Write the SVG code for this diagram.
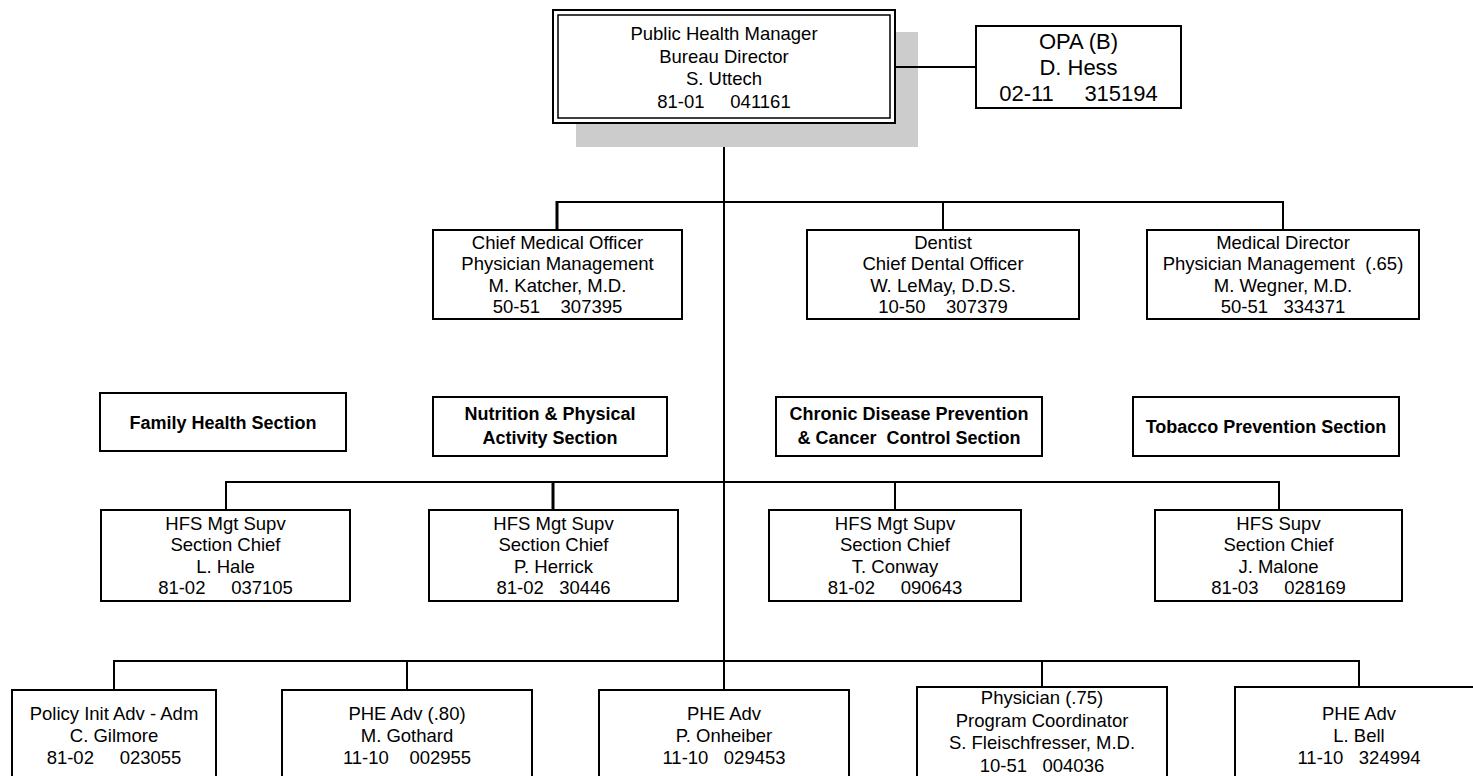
<svg xmlns="http://www.w3.org/2000/svg" width="1473" height="776" viewBox="0 0 1473 776">
<style>
.b{fill:#fff;stroke:#000;stroke-width:2}
.t{font-family:"Liberation Sans",Arial,sans-serif;font-size:18.5px;fill:#000;text-anchor:middle}
.o{font-size:22px}
.s{font-weight:bold;font-size:18px}
.c{fill:none;stroke:#000;stroke-width:2}
.k{stroke-width:3}
</style>
<rect width="1473" height="776" fill="#fff"/>
<g id="director">
<rect x="576" y="32" width="342" height="115" fill="#cccccc"/>
<rect class="b" x="553" y="10" width="342" height="113"/>
<rect x="558" y="15" width="332" height="103" fill="none" stroke="#000" stroke-width="1.5"/>
<text class="t" x="724" y="39.5">Public Health Manager</text>
<text class="t" x="724" y="62.5">Bureau Director</text>
<text class="t" x="724" y="84.5">S. Uttech</text>
<text class="t" x="724" y="107.5" xml:space="preserve">81-01     041161</text>
</g>
<g id="opa">
<rect class="b" x="976" y="26" width="205" height="82"/>
<text class="t o" x="1078.5" y="48.5">OPA (B)</text>
<text class="t o" x="1078.5" y="74.5">D. Hess</text>
<text class="t o" x="1078.5" y="100.5" xml:space="preserve">02-11     315194</text>
</g>
<g id="katcher">
<rect class="b" x="433" y="230" width="249" height="89"/>
<text class="t" x="557.5" y="249">Chief Medical Officer</text>
<text class="t" x="557.5" y="270">Physician Management</text>
<text class="t" x="557.5" y="292">M. Katcher, M.D.</text>
<text class="t" x="557.5" y="313" xml:space="preserve">50-51    307395</text>
</g>
<g id="lemay">
<rect class="b" x="807" y="230" width="272" height="89"/>
<text class="t" x="943" y="249">Dentist</text>
<text class="t" x="943" y="270">Chief Dental Officer</text>
<text class="t" x="943" y="292">W. LeMay, D.D.S.</text>
<text class="t" x="943" y="313" xml:space="preserve">10-50    307379</text>
</g>
<g id="wegner">
<rect class="b" x="1147" y="230" width="272" height="89"/>
<text class="t" x="1283" y="249">Medical Director</text>
<text class="t" x="1283" y="270" xml:space="preserve">Physician Management  (.65)</text>
<text class="t" x="1283" y="292">M. Wegner, M.D.</text>
<text class="t" x="1283" y="313" xml:space="preserve">50-51   334371</text>
</g>
<g id="family-health">
<rect class="b" x="100" y="393" width="246" height="58"/>
<text class="t s" x="223" y="428.5">Family Health Section</text>
</g>
<g id="nutrition">
<rect class="b" x="433" y="397" width="234" height="59"/>
<text class="t s" x="550" y="420">Nutrition &amp; Physical</text>
<text class="t s" x="550" y="444">Activity Section</text>
</g>
<g id="chronic">
<rect class="b" x="776" y="397" width="266" height="59"/>
<text class="t s" x="909" y="420">Chronic Disease Prevention</text>
<text class="t s" x="909" y="444" xml:space="preserve">&amp; Cancer  Control Section</text>
</g>
<g id="tobacco">
<rect class="b" x="1133" y="397" width="266" height="59"/>
<text class="t s" x="1266" y="433">Tobacco Prevention Section</text>
</g>
<g id="hale">
<rect class="b" x="101" y="510" width="249" height="91"/>
<text class="t" x="225.5" y="530">HFS Mgt Supv</text>
<text class="t" x="225.5" y="551">Section Chief</text>
<text class="t" x="225.5" y="573">L. Hale</text>
<text class="t" x="225.5" y="594" xml:space="preserve">81-02     037105</text>
</g>
<g id="herrick">
<rect class="b" x="429" y="510" width="249" height="91"/>
<text class="t" x="553.5" y="530">HFS Mgt Supv</text>
<text class="t" x="553.5" y="551">Section Chief</text>
<text class="t" x="553.5" y="573">P. Herrick</text>
<text class="t" x="553.5" y="594" xml:space="preserve">81-02   30446</text>
</g>
<g id="conway">
<rect class="b" x="769" y="510" width="252" height="91"/>
<text class="t" x="895" y="530">HFS Mgt Supv</text>
<text class="t" x="895" y="551">Section Chief</text>
<text class="t" x="895" y="573">T. Conway</text>
<text class="t" x="895" y="594" xml:space="preserve">81-02     090643</text>
</g>
<g id="malone">
<rect class="b" x="1155" y="510" width="247" height="91"/>
<text class="t" x="1278.5" y="530">HFS Supv</text>
<text class="t" x="1278.5" y="551">Section Chief</text>
<text class="t" x="1278.5" y="573">J. Malone</text>
<text class="t" x="1278.5" y="594" xml:space="preserve">81-03     028169</text>
</g>
<g id="gilmore">
<rect class="b" x="12" y="690" width="204" height="100"/>
<text class="t" x="114" y="719.5">Policy Init Adv - Adm</text>
<text class="t" x="114" y="741.5">C. Gilmore</text>
<text class="t" x="114" y="763.5" xml:space="preserve">81-02     023055</text>
</g>
<g id="gothard">
<rect class="b" x="282" y="690" width="250" height="100"/>
<text class="t" x="407" y="719.5">PHE Adv (.80)</text>
<text class="t" x="407" y="741.5">M. Gothard</text>
<text class="t" x="407" y="763.5" xml:space="preserve">11-10    002955</text>
</g>
<g id="onheiber">
<rect class="b" x="599" y="690" width="250" height="100"/>
<text class="t" x="724" y="719.5">PHE Adv</text>
<text class="t" x="724" y="741.5">P. Onheiber</text>
<text class="t" x="724" y="763.5" xml:space="preserve">11-10   029453</text>
</g>
<g id="fleischfresser">
<rect class="b" x="917" y="687" width="250" height="100"/>
<text class="t" x="1042" y="703.5">Physician  (.75)</text>
<text class="t" x="1042" y="726.5">Program Coordinator</text>
<text class="t" x="1042" y="748.5">S. Fleischfresser, M.D.</text>
<text class="t" x="1042" y="771.5" xml:space="preserve">10-51   004036</text>
</g>
<g id="bell">
<rect class="b" x="1235" y="687" width="248" height="100"/>
<text class="t" x="1359" y="719.5">PHE Adv</text>
<text class="t" x="1359" y="741.5">L. Bell</text>
<text class="t" x="1359" y="763.5" xml:space="preserve">11-10   324994</text>
</g>
<g id="connectors">
<path class="c" d="M895 67H976"/>
<path class="c" d="M724 147V690"/>
<path class="c" d="M557 202H1283V230M943 202V230"/>
<path class="c k" d="M557 201V230"/>
<path class="c" d="M226 510V482H1279V510M895 482V510"/>
<path class="c k" d="M553 481V510"/>
<path class="c" d="M114 690V661H1359V687M407 661V690M1042 661V687"/>
</g>
</svg>
